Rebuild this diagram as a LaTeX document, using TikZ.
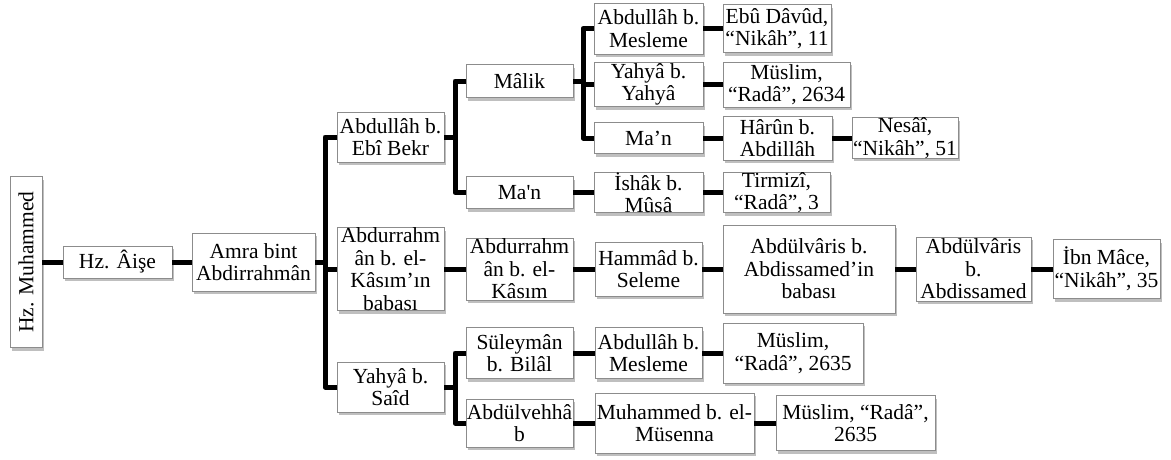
\documentclass[tikz,border=0pt]{standalone}
\usepackage{fontspec}
\newfontfamily\treefont{Liberation Serif}
\usetikzlibrary{shadows}
\begin{document}
\begin{tikzpicture}[x=1pt,y=-1pt]
\tikzset{
  box/.style={draw=black!45, line width=0.8pt, fill=white, inner sep=0pt, align=center,
    font=\treefont\fontsize{21.5}{22.5}\selectfont,
    drop shadow={shadow xshift=2pt, shadow yshift=-3pt, fill=black, opacity=0.25}},
  conn/.style={line width=5pt, line join=round}
}
\useasboundingbox (0,0) rectangle (1171,459);

% nodes of the chain, left to right
\node[box, rotate=90, minimum width=171pt, minimum height=32pt] (muh) at (26,262) {Hz. Muhammed};
\node[box, minimum width=109pt, minimum height=32pt] (aise) at (117.5,262) {Hz. Âişe};
\node[box, minimum width=123pt, minimum height=58pt] (amra) at (253.5,262) {Amra bint\\Abdirrahmân};

\node[box, minimum width=107pt, minimum height=50pt] (abk) at (390.5,137) {Abdullâh b.\\Ebî Bekr};
\node[box, minimum width=107pt, minimum height=83pt] (arb) at (390.5,269) {Abdurrahm\\ân b. el-\\Kâsım’ın\\babası};
\node[box, minimum width=107pt, minimum height=50pt] (yhs) at (390.5,387) {Yahyâ b.\\Saîd};

\node[box, minimum width=107pt, minimum height=33pt] (malik) at (519.5,81) {Mâlik};
\node[box, minimum width=107pt, minimum height=32pt] (mana) at (519.5,192.5) {Ma'n};
\node[box, minimum width=107pt, minimum height=62pt] (ark) at (519.5,269) {Abdurrahm\\ân b. el-\\Kâsım};
\node[box, minimum width=107pt, minimum height=51pt] (slm) at (519.5,353) {Süleymân\\b. Bilâl};
\node[box, minimum width=107pt, minimum height=48pt] (avh) at (519.5,423) {Abdülvehhâ\\b};

\node[box, minimum width=109pt, minimum height=51pt] (abma) at (648.5,28.5) {Abdullâh b.\\Mesleme};
\node[box, minimum width=109pt, minimum height=44pt] (yy) at (648.5,84.5) {Yahyâ b.\\Yahyâ};
\node[box, minimum width=109pt, minimum height=31pt] (manb) at (648.5,138) {Ma’n};
\node[box, minimum width=109pt, minimum height=38pt] (ism) at (648.5,192.5) {İshâk b.\\Mûsâ};
\node[box, minimum width=107pt, minimum height=54pt] (hs) at (648.5,269) {Hammâd b.\\Seleme};
\node[box, minimum width=107pt, minimum height=51pt] (abmb) at (648.5,353) {Abdullâh b.\\Mesleme};
\node[box, minimum width=159pt, minimum height=60pt] (mme) at (674.5,423) {Muhammed b. el-\\Müsenna};

\node[box, minimum width=108pt, minimum height=48pt] (ebu) at (777,28.5) {Ebû Dâvûd,\\“Nikâh”, 11};
\node[box, minimum width=127pt, minimum height=45pt] (musa) at (786.5,84.5) {Müslim,\\“Radâ”, 2634};
\node[box, minimum width=109pt, minimum height=44pt] (harun) at (777.5,138) {Hârûn b.\\Abdillâh};
\node[box, minimum width=107pt, minimum height=38pt] (tir) at (776.5,192.5) {Tirmizî,\\“Radâ”, 3};
\node[box, minimum width=172pt, minimum height=88pt] (avb) at (809,269) {Abdülvâris b.\\Abdissamed’in\\babası};
\node[box, minimum width=140pt, minimum height=60pt] (musb) at (793,353) {Müslim,\\“Radâ”, 2635};
\node[box, minimum width=159pt, minimum height=55pt] (musc) at (855.5,423) {Müslim, “Radâ”,\\2635};

\node[box, minimum width=106pt, minimum height=38pt] (nes) at (905,138) {Nesâî,\\“Nikâh”, 51};
\node[box, minimum width=115pt, minimum height=64pt] (avs) at (973.5,269) {Abdülvâris\\b.\\Abdissamed};
\node[box, minimum width=107pt, minimum height=59pt] (ibn) at (1106.5,269) {İbn Mâce,\\“Nikâh”, 35};

% branching points
\coordinate (ja) at (325,262);
\coordinate (jb) at (455,137);
\coordinate (jc) at (583,81);
\coordinate (jd) at (455,387);

% connectors
\draw[conn] (muh.south) -- (aise.west);
\draw[conn] (aise.east) -- (amra.west);

\draw[conn] (amra.east) -- (ja) |- (abk.west);
\draw[conn] (ja) |- (arb.west);
\draw[conn] (ja) |- (yhs.west);

\draw[conn] (abk.east) -- (jb) |- (malik.west);
\draw[conn] (jb) |- (mana.west);

\draw[conn] (malik.east) -- (jc) |- (abma.west);
\draw[conn] (jc) |- (yy.west);
\draw[conn] (jc) |- (manb.west);

\draw[conn] (yhs.east) -- (jd) |- (slm.west);
\draw[conn] (jd) |- (avh.west);

\draw[conn] (abma.east) -- (ebu.west);
\draw[conn] (yy.east) -- (musa.west);
\draw[conn] (manb.east) -- (harun.west);
\draw[conn] (harun.east) -- (nes.west);
\draw[conn] (mana.east) -- (ism.west);
\draw[conn] (ism.east) -- (tir.west);
\draw[conn] (arb.east) -- (ark.west);
\draw[conn] (ark.east) -- (hs.west);
\draw[conn] (hs.east) -- (avb.west);
\draw[conn] (avb.east) -- (avs.west);
\draw[conn] (avs.east) -- (ibn.west);
\draw[conn] (slm.east) -- (abmb.west);
\draw[conn] (abmb.east) -- (musb.west);
\draw[conn] (avh.east) -- (mme.west);
\draw[conn] (mme.east) -- (musc.west);
\end{tikzpicture}
\end{document}
